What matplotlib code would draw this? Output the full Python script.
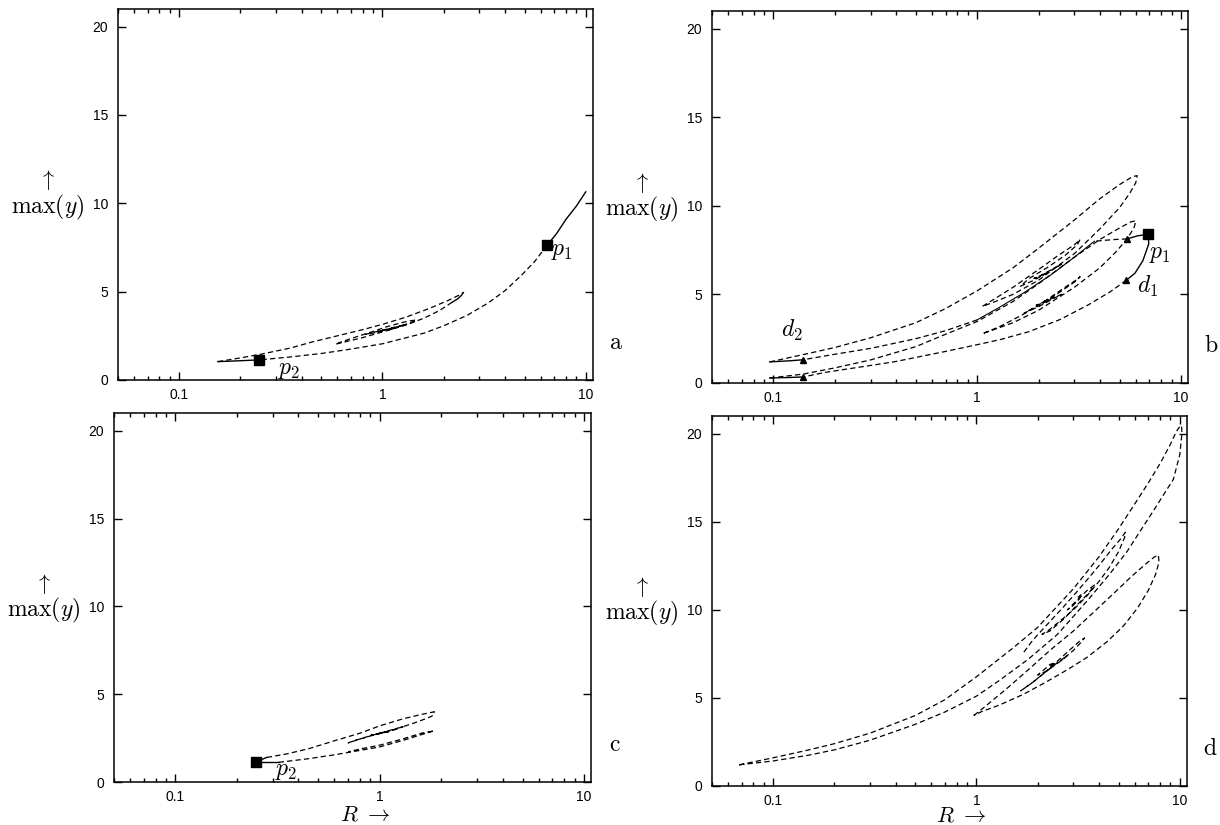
import numpy as np
import matplotlib.pyplot as plt
from matplotlib.ticker import FixedLocator, LogLocator, NullFormatter

plt.rcParams.update({
    'font.family': ['Liberation Sans', 'DejaVu Sans'],
    'mathtext.fontset': 'cm',
    'lines.scale_dashes': False,
})

DASH = (0, (3.8, 2.3))

# ---------------------------------------------------------------
# Data: (R, max(y)) along each branch
# ---------------------------------------------------------------
# panel a
a_top_R = [10.0, 9.0, 8.0, 7.2, 6.45]
a_top_y = [10.65, 9.85, 9.1, 8.3, 7.62]
a_main_R = [6.45, 5.6, 4.8, 4.0, 3.3, 2.6, 2.0, 1.6, 1.0, 0.7, 0.5, 0.35, 0.248]
a_main_y = [7.62, 6.7, 5.9, 5.05, 4.35, 3.65, 3.07, 2.65, 2.05, 1.75, 1.5, 1.3, 1.14]
a_left_R = [0.248, 0.2, 0.155]
a_left_y = [1.14, 1.09, 1.04]
a_loop_R = [0.155, 0.2, 0.25, 0.35, 0.45, 0.6, 0.8, 1.0, 1.3, 1.7, 2.1, 2.4, 2.5]
a_loop_y = [1.04, 1.25, 1.45, 1.8, 2.15, 2.5, 2.85, 3.15, 3.55, 4.05, 4.5, 4.82, 4.95]
a_turn_R = [2.5, 2.45, 2.35, 2.2]
a_turn_y = [4.95, 4.8, 4.6, 4.4]
a_spiral_R = [2.2, 1.9, 1.6, 1.3, 1.0, 0.8, 0.65, 0.585, 0.65, 0.76, 0.9, 1.04, 1.2,
              1.35, 1.47, 1.4, 1.25, 1.1, 0.95, 0.83, 0.92, 1.05, 1.2, 1.28, 1.2,
              1.05, 0.95, 1.0, 1.1, 1.15, 1.08]
a_spiral_y = [4.4, 3.92, 3.5, 3.1, 2.72, 2.4, 2.15, 2.02, 2.22, 2.48, 2.75, 3.0, 3.2,
              3.34, 3.4, 3.28, 3.08, 2.88, 2.7, 2.59, 2.72, 2.88, 3.05, 3.12, 3.02,
              2.85, 2.76, 2.8, 2.9, 2.93, 2.86]
a_p1 = (6.45, 7.62)
a_p2 = (0.248, 1.14)

# panel b
b_p1 = (6.9, 8.4)
b_tri_R = [5.44, 5.4, 0.14, 0.14]
b_tri_y = [8.13, 5.8, 1.31, 0.34]
b_p1up_R = [6.9, 6.1, 5.44]
b_p1up_y = [8.4, 8.3, 8.13]
b_p1dn_R = [6.9, 6.95, 6.5, 5.95, 5.4]
b_p1dn_y = [8.4, 7.85, 6.9, 6.2, 5.8]
# upper sheet
bu_a_R = [5.44, 4.8, 4.2, 3.76]
bu_a_y = [8.13, 8.1, 8.05, 8.0]
bu_solid_R = [3.76, 3.0, 2.3, 1.7, 1.3, 1.0]
bu_solid_y = [8.0, 7.1, 6.1, 5.1, 4.3, 3.56]
bu_b_R = [1.0, 0.7, 0.5, 0.3, 0.2, 0.14]
bu_b_y = [3.56, 2.95, 2.5, 1.95, 1.62, 1.31]
bu_left_R = [0.14, 0.12, 0.096]
bu_left_y = [1.31, 1.25, 1.19]
bu_loop_R = [0.096, 0.14, 0.2, 0.3, 0.5, 0.7, 1.0, 1.5, 2.0, 3.0, 4.0, 5.0, 5.8, 6.1,
             6.0, 5.6, 5.0, 4.0, 3.0, 2.0, 1.5, 1.2, 1.06,
             1.2, 1.5, 2.0, 2.5, 3.0, 3.2, 3.1, 2.7, 2.2, 1.8, 1.63,
             1.9, 2.3, 2.6, 2.4, 2.0, 1.9, 2.1, 2.2, 2.1]
bu_loop_y = [1.19, 1.6, 2.0, 2.55, 3.4, 4.2, 5.2, 6.5, 7.6, 9.2, 10.4, 11.2, 11.65, 11.7,
             11.3, 10.7, 9.9, 8.7, 7.3, 5.8, 5.0, 4.55, 4.32,
             4.7, 5.4, 6.4, 7.2, 7.8, 8.1, 7.8, 7.2, 6.5, 5.9, 5.46,
             5.8, 6.35, 6.7, 6.5, 6.0, 5.9, 6.1, 6.2, 6.1]
# lower sheet
bl_a_R = [5.4, 4.5, 3.5, 2.55, 1.8, 1.3, 1.0, 0.7, 0.39, 0.25, 0.18, 0.14]
bl_a_y = [5.8, 5.15, 4.4, 3.58, 2.9, 2.45, 2.16, 1.78, 1.19, 0.85, 0.6, 0.34]
bl_left_R = [0.14, 0.12, 0.096]
bl_left_y = [0.34, 0.31, 0.28]
bl_loop_R = [0.096, 0.14, 0.2, 0.3, 0.5, 0.7, 1.0, 1.5, 2.0, 3.0, 4.0, 5.0, 5.7, 6.0,
             5.9, 5.5, 4.8, 4.0, 3.0, 2.0, 1.5, 1.2, 1.06,
             1.3, 1.7, 2.2, 2.7, 3.1, 3.2, 3.05, 2.6, 2.1, 1.7,
             2.0, 2.4, 2.6, 2.4, 2.05, 1.95, 2.15, 2.25, 2.12]
bl_loop_y = [0.28, 0.5, 0.85, 1.3, 2.05, 2.75, 3.47, 4.6, 5.6, 7.1, 8.1, 8.75, 9.1, 9.15,
             8.8, 8.2, 7.4, 6.5, 5.4, 4.1, 3.4, 3.0, 2.78,
             3.2, 3.9, 4.7, 5.4, 5.85, 6.0, 5.75, 5.2, 4.5, 3.95,
             4.3, 4.8, 5.0, 4.85, 4.45, 4.4, 4.6, 4.7, 4.6]

# panel c
c_p2 = (0.249, 1.14)
c_up_solid_R = [0.249, 0.28]
c_up_solid_y = [1.16, 1.4]
c_up_R = [0.28, 0.35, 0.45, 0.6, 0.8, 1.0, 1.3, 1.6, 1.85,
          1.8, 1.55, 1.3, 1.05, 0.85, 0.75, 0.7,
          0.8, 0.95, 1.1, 1.22, 1.3, 1.2, 1.05, 0.92, 0.9, 1.0, 1.1, 1.05, 0.98]
c_up_y = [1.4, 1.6, 1.9, 2.35, 2.78, 3.2, 3.6, 3.85, 4.0,
          3.75, 3.45, 3.15, 2.85, 2.55, 2.35, 2.23,
          2.45, 2.7, 2.9, 3.05, 3.15, 3.0, 2.82, 2.68, 2.65, 2.76, 2.85, 2.8, 2.76]
c_lo_solid_R = [0.249, 0.32]
c_lo_solid_y = [1.12, 1.12]
c_lo_R = [0.32, 0.45, 0.6, 0.8, 1.0, 1.3, 1.6, 1.85, 1.6, 1.3, 1.0, 0.8, 0.7]
c_lo_y = [1.12, 1.33, 1.55, 1.8, 2.0, 2.37, 2.7, 2.92, 2.78, 2.46, 2.1, 1.88, 1.72]

# panel d
d_outer_R = [0.068, 0.1, 0.15, 0.2, 0.3, 0.5, 0.7, 1.0, 1.5, 2.0, 3.0, 4.0, 5.0, 6.0,
             7.0, 8.0, 9.0, 9.6, 10.0, 10.2, 10.25, 10.0, 9.3, 8.5, 7.5, 6.5, 5.5,
             4.5, 3.5, 2.5, 1.8, 1.3, 1.0, 0.7, 0.5, 0.3, 0.2, 0.15, 0.1, 0.068]
d_outer_y = [1.2, 1.6, 2.05, 2.4, 3.0, 4.0, 4.9, 6.2, 7.8, 9.0, 11.2, 13.0, 14.6, 16.0,
             17.2, 18.3, 19.4, 20.1, 20.4, 20.45, 20.0, 18.8, 17.4, 16.7, 15.7, 14.6, 13.3,
             12.0, 10.5, 8.6, 7.2, 6.0, 5.1, 4.2, 3.5, 2.6, 2.05, 1.75, 1.42, 1.2]
d_upper_R = [1.71, 1.9, 2.2, 2.6, 3.0, 3.5, 4.0, 4.6, 5.1, 5.4,
             5.35, 5.0, 4.5, 4.0, 3.5, 3.0, 2.6, 2.3, 2.1,
             2.3, 2.7, 3.2, 3.6, 3.8, 3.5, 3.1, 2.8, 2.9, 3.2, 3.3, 3.15]
d_upper_y = [7.6, 8.3, 9.1, 10.0, 10.8, 11.7, 12.5, 13.4, 14.0, 14.4,
             14.1, 13.3, 12.4, 11.6, 10.8, 10.0, 9.4, 8.9, 8.6,
             8.8, 9.5, 10.4, 11.0, 11.4, 11.1, 10.5, 10.0, 10.1, 10.6, 10.9, 10.7]
d_big_R = [0.97, 1.1, 1.4, 1.8, 2.3, 3.0, 3.8, 4.8, 5.8, 6.8, 7.5, 7.85,
           7.9, 7.6, 7.0, 6.2, 5.3, 4.4, 3.5, 2.8, 2.2, 1.7, 1.3, 1.05, 0.97]
d_big_y = [4.0, 4.5, 5.5, 6.6, 7.7, 8.8, 9.9, 11.0, 11.9, 12.6, 13.0, 13.1,
           12.7, 12.0, 11.1, 10.1, 9.1, 8.2, 7.3, 6.6, 5.9, 5.2, 4.6, 4.2, 4.0]
d_small_R = [2.3, 2.45, 2.3, 2.1, 2.0, 2.2, 2.6, 2.8, 2.5, 2.1, 1.85, 1.65, 1.9, 2.3,
             2.8, 3.2, 3.4, 3.3, 3.0, 2.6]
d_small_y = [6.8, 7.0, 6.9, 6.5, 6.3, 6.5, 7.1, 7.4, 7.0, 6.3, 5.8, 5.4, 5.9, 6.7,
             7.6, 8.2, 8.4, 8.2, 7.7, 7.1]


# ---------------------------------------------------------------
# Helpers
# ---------------------------------------------------------------
def dashed(ax, R, y):
    ax.plot(R, y, color='black', lw=0.9, linestyle=DASH)


def solid(ax, R, y):
    ax.plot(R, y, color='black', lw=1.0)


def setup(ax, letter):
    ax.set_xscale('log')
    ax.set_xlim(0.05, 10.8)
    ax.set_ylim(0, 21)
    ax.xaxis.set_major_locator(FixedLocator([0.1, 1, 10]))
    ax.xaxis.set_minor_locator(LogLocator(base=10, subs=np.arange(2, 10)))
    ax.xaxis.set_minor_formatter(NullFormatter())
    ax.set_xticklabels(['0.1', '1', '10'])
    ax.set_yticks([0, 5, 10, 15, 20])
    ax.tick_params(which='both', direction='in', top=True, right=True,
                   labelsize=10, width=1)
    ax.tick_params(which='major', length=5.5)
    ax.tick_params(which='minor', length=3)
    ax.tick_params(axis='x', pad=5.5)
    ax.tick_params(axis='y', pad=7)
    for s in ax.spines.values():
        s.set_linewidth(1.1)
    ax.text(-0.148, 0.538, r'$\uparrow$', transform=ax.transAxes,
            ha='center', va='center', fontsize=16)
    ax.text(-0.148, 0.466, r'$\max(y)$', transform=ax.transAxes,
            ha='center', va='center', fontsize=17)
    ax.text(1.05, 0.10, r'$\mathrm{%s}$' % letter, transform=ax.transAxes,
            ha='center', va='center', fontsize=17)


fig = plt.figure(figsize=(12.2, 8.25), dpi=100)
ax_a = fig.add_axes([0.0967, 0.5394, 0.389, 0.4497])
ax_b = fig.add_axes([0.5836, 0.5358, 0.390, 0.451])
ax_c = fig.add_axes([0.0934, 0.0521, 0.391, 0.447])
ax_d = fig.add_axes([0.5836, 0.0473, 0.389, 0.4485])

# panel a
solid(ax_a, a_top_R, a_top_y)
dashed(ax_a, a_main_R, a_main_y)
solid(ax_a, a_left_R, a_left_y)
dashed(ax_a, a_loop_R, a_loop_y)
solid(ax_a, a_turn_R, a_turn_y)
dashed(ax_a, a_spiral_R, a_spiral_y)
ax_a.plot(*a_p1, 's', color='black', ms=7)
ax_a.plot(*a_p2, 's', color='black', ms=7)
ax_a.text(7.65, 7.28, r'$p_1$', ha='center', va='center', fontsize=17)
ax_a.text(0.348, 0.55, r'$p_2$', ha='center', va='center', fontsize=17)
setup(ax_a, 'a')

# panel b
solid(ax_b, b_p1up_R, b_p1up_y)
solid(ax_b, b_p1dn_R, b_p1dn_y)
dashed(ax_b, bu_a_R, bu_a_y)
ax_b.plot(bu_solid_R, bu_solid_y, color='black', lw=0.8)
dashed(ax_b, bu_b_R, bu_b_y)
solid(ax_b, bu_left_R, bu_left_y)
dashed(ax_b, bu_loop_R, bu_loop_y)
dashed(ax_b, bl_a_R, bl_a_y)
solid(ax_b, bl_left_R, bl_left_y)
dashed(ax_b, bl_loop_R, bl_loop_y)
ax_b.plot(b_tri_R, b_tri_y, '^', color='black', ms=4.5, ls='none')
ax_b.plot(*b_p1, 's', color='black', ms=7)
ax_b.text(7.9, 7.26, r'$p_1$', ha='center', va='center', fontsize=17)
ax_b.text(6.84, 5.45, r'$d_1$', ha='center', va='center', fontsize=17)
ax_b.text(0.124, 2.95, r'$d_2$', ha='center', va='center', fontsize=17)
setup(ax_b, 'b')

# panel c
solid(ax_c, c_up_solid_R, c_up_solid_y)
dashed(ax_c, c_up_R, c_up_y)
solid(ax_c, c_lo_solid_R, c_lo_solid_y)
dashed(ax_c, c_lo_R, c_lo_y)
ax_c.plot(*c_p2, 's', color='black', ms=7)
ax_c.text(0.349, 0.62, r'$p_2$', ha='center', va='center', fontsize=17)
setup(ax_c, 'c')

# panel d
dashed(ax_d, d_outer_R, d_outer_y)
dashed(ax_d, d_upper_R, d_upper_y)
dashed(ax_d, d_big_R, d_big_y)
dashed(ax_d, d_small_R, d_small_y)
setup(ax_d, 'd')

# x-axis labels below the bottom row
fig.text(0.299, 0.005, r'$R\ \rightarrow$', ha='center', va='baseline', fontsize=16)
fig.text(0.788, 0.004, r'$R\ \rightarrow$', ha='center', va='baseline', fontsize=16)

fig.savefig('out.png', dpi=100)
